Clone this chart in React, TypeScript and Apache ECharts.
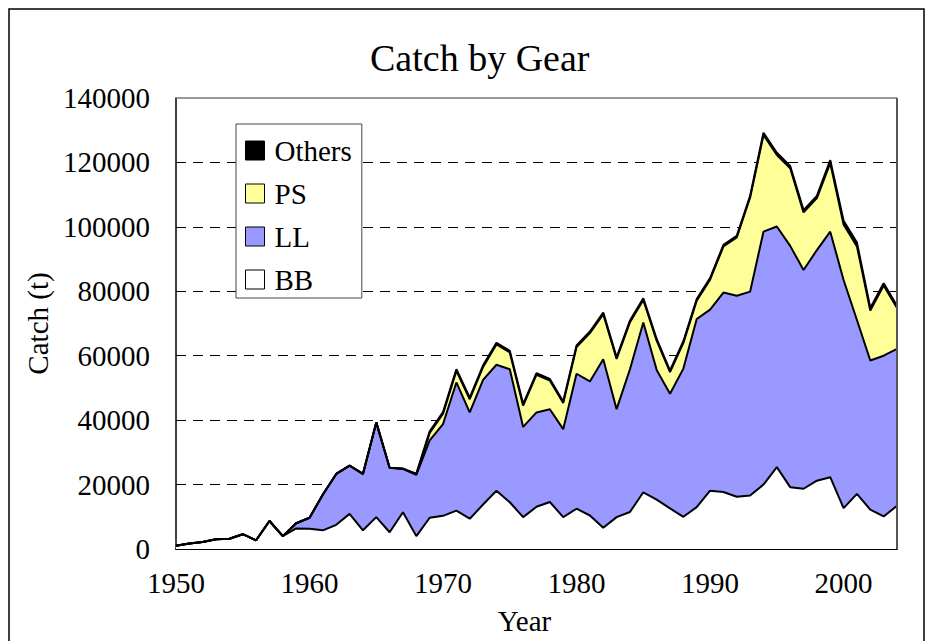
import React, { useEffect, useRef } from "react";
import * as echarts from "echarts";

const years = [
  "1950", "1951", "1952", "1953", "1954", "1955", "1956", "1957", "1958", "1959",
  "1960", "1961", "1962", "1963", "1964", "1965", "1966", "1967", "1968", "1969",
  "1970", "1971", "1972", "1973", "1974", "1975", "1976", "1977", "1978", "1979",
  "1980", "1981", "1982", "1983", "1984", "1985", "1986", "1987", "1988", "1989",
  "1990", "1991", "1992", "1993", "1994", "1995", "1996", "1997", "1998", "1999",
  "2000", "2001", "2002", "2003", "2004",
];

const bb = [
  1000, 1700, 2200, 3000, 3200, 4600, 2700, 8700, 4000, 6400,
  6300, 5800, 7500, 10900, 5800, 9900, 5200, 11400, 4000, 9700,
  10300, 11900, 9400, 13800, 18100, 14500, 9900, 13100, 14600, 9900,
  12500, 10400, 6600, 9900, 11500, 17600, 15300, 12600, 10000, 13000,
  18100, 17700, 16200, 16600, 20000, 25400, 19200, 18700, 21200, 22300,
  12700, 17100, 12200, 10100, 13400,
];

const ll = [
  0, 0, 0, 0, 0, 0, 0, 0, 0, 1600,
  3400, 11100, 15800, 15000, 17500, 29400, 20000, 13500, 19000, 24000,
  28500, 39800, 33000, 38700, 39100, 41300, 28000, 29300, 28800, 27300,
  41900, 41600, 52300, 33500, 44300, 52700, 40300, 35600, 46000, 58400,
  56200, 61900, 62400, 63300, 78500, 74700, 74900, 67900, 71600, 76200,
  70800, 54000, 46300, 49900, 48700,
];

const ps = [
  0, 0, 0, 0, 0, 0, 0, 0, 0, 0,
  0, 0, 0, 0, 0, 0, 0, 0, 200, 2300,
  3200, 3600, 4100, 4000, 6300, 5200, 6600, 11700, 8900, 8100,
  8300, 15000, 14000, 15600, 14600, 7000, 9100, 6700, 8000, 5700,
  9300, 14300, 18100, 29200, 30000, 22200, 24100, 17900, 16100, 21300,
  17200, 22800, 15500, 21800, 12700,
];

const others = [
  0, 0, 0, 0, 0, 0, 0, 0, 0, 0,
  0, 0, 0, 0, 0, 0, 0, 0, 200, 500,
  500, 500, 500, 500, 500, 500, 500, 500, 500, 500,
  500, 500, 500, 500, 500, 500, 500, 500, 500, 500,
  500, 500, 500, 500, 700, 700, 700, 700, 700, 900,
  1200, 1200, 800, 700, 700,
];

const seriesNames = ["BB", "LL", "PS", "Others"];
const seriesColors = ["#FFFFFF", "#9999FF", "#FFFF99", "#000000"];
const legendOrder = ["Others", "PS", "LL", "BB"];
const yTicks = [0, 20000, 40000, 60000, 80000, 100000, 120000, 140000];

const FONT = "'Liberation Serif', 'Times New Roman', serif";

export default function App() {
  const ref = useRef<HTMLDivElement>(null);

  useEffect(() => {
    if (!ref.current) return;
    const chart = echarts.init(ref.current, undefined, { renderer: "svg" });
    const values = [bb, ll, ps, others];
    const colorOf = (n: string) => seriesColors[seriesNames.indexOf(n)];

    const option: any = {
      animation: false,
      backgroundColor: "#FFFFFF",
      title: {
        text: "Catch by Gear",
        left: 370,
        top: 39,
        padding: 0,
        textStyle: {
          fontFamily: FONT,
          fontSize: 38,
          fontWeight: "normal",
          color: "#000",
        },
      },
      legend: {
        orient: "vertical",
        left: 236,
        top: 124,
        padding: [12, 10, 4, 9],
        itemWidth: 19,
        itemHeight: 19,
        itemGap: 14,
        borderColor: "#444",
        borderWidth: 1,
        backgroundColor: "#FFFFFF",
        icon: "rect",
        lineStyle: { opacity: 0, width: 0 },
        textStyle: {
          fontFamily: FONT,
          fontSize: 29,
          lineHeight: 29,
          color: "#000",
          padding: [0, 0, 0, 5],
        },
        data: legendOrder.map((n) => ({
          name: n,
          icon: "rect",
          itemStyle: { color: colorOf(n), borderColor: "#000", borderWidth: 1 },
        })),
      },
      grid: {
        left: 176,
        right: 35,
        top: 98,
        bottom: 92,
        containLabel: false,
      },
      xAxis: {
        type: "category",
        boundaryGap: false,
        data: years,
        name: "Year",
        nameLocation: "middle",
        nameGap: 57,
        nameTextStyle: {
          fontFamily: FONT,
          fontSize: 29,
          color: "#000",
          padding: [0, 24, 0, 0],
        },
        axisLine: { show: true, lineStyle: { color: "#000", width: 2 } },
        axisTick: {
          show: true,
          inside: true,
          length: 9,
          interval: (i: number) => i % 5 === 0,
          lineStyle: { color: "#555", width: 1.5 },
        },
        axisLabel: {
          interval: (i: number) => i % 10 === 0,
          fontFamily: FONT,
          fontSize: 29,
          color: "#000",
          margin: 19,
        },
        splitLine: { show: false },
      },
      yAxis: {
        type: "value",
        min: yTicks[0],
        max: yTicks[yTicks.length - 1],
        interval: 20000,
        name: "Catch (t)",
        nameLocation: "middle",
        nameGap: 124,
        nameRotate: 90,
        nameTextStyle: {
          fontFamily: FONT,
          fontSize: 29,
          color: "#000",
        },
        axisLine: { show: true, lineStyle: { color: "#000", width: 1.5 } },
        axisTick: { show: false },
        axisLabel: {
          fontFamily: FONT,
          fontSize: 29,
          color: "#000",
          margin: 26,
          formatter: (v: number) => String(v),
        },
        splitLine: {
          show: true,
          lineStyle: {
            color: yTicks.map((t, i) =>
              i === 0 || i === yTicks.length - 1 ? "rgba(0,0,0,0)" : "#000"
            ),
            type: [10, 7],
            width: 1,
          },
        },
      },
      series: seriesNames.map((n, i) => ({
        name: n,
        type: "line",
        stack: "catch",
        symbol: "none",
        showSymbol: false,
        data: values[i],
        itemStyle: { color: seriesColors[i] },
        lineStyle: { color: "#000", width: 2 },
        areaStyle: { color: seriesColors[i], opacity: 1 },
        z: 2,
      })),
      graphic: [
        {
          type: "rect",
          z: 100,
          shape: { x: 9, y: 9, width: 915, height: 640 },
          style: { fill: "none", stroke: "#000", lineWidth: 1.5 },
          silent: true,
        },
        {
          type: "line",
          z: 100,
          shape: { x1: 176, y1: 98, x2: 897, y2: 98 },
          style: { stroke: "#777", lineWidth: 1.5 },
          silent: true,
        },
        {
          type: "line",
          z: 100,
          shape: { x1: 897, y1: 98, x2: 897, y2: 549 },
          style: { stroke: "#555", lineWidth: 2 },
          silent: true,
        },
      ],
    };

    chart.setOption(option);
    return () => {
      chart.dispose();
    };
  }, []);

  return (
    <div
      ref={ref}
      style={{ position: "absolute", left: 0, top: 0, width: 932, height: 641 }}
    />
  );
}
